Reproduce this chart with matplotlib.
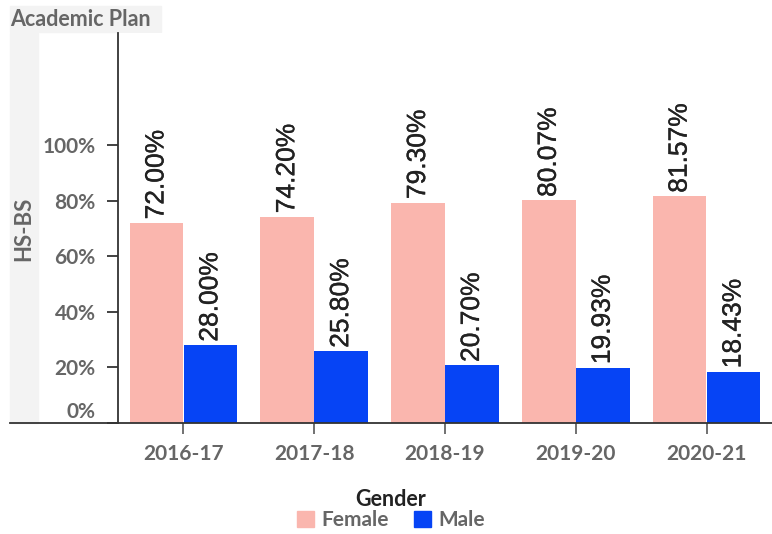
import matplotlib
matplotlib.use("Agg")
import matplotlib.pyplot as plt
import matplotlib.transforms as mtransforms
import matplotlib.patheffects as pe
from matplotlib.lines import Line2D
from matplotlib.patches import Patch, Rectangle
import numpy as np

years = ["2016-17", "2017-18", "2018-19", "2019-20", "2020-21"]
female = [72.00, 74.20, 79.30, 80.07, 81.57]
male = [28.00, 25.80, 20.70, 19.93, 18.43]
yticks = [0, 20, 40, 60, 80, 100]

c_female = "#fab6ae"
c_male = "#0644f5"
grey = "#666666"

plt.rcParams['font.family'] = ['Lato', 'DejaVu Sans']

fig = plt.figure(figsize=(7.72, 5.34), dpi=100)
W, H = 772, 534
ax = fig.add_axes([118 / W, 1 - 423 / H, (W - 118) / W, (423 - 33) / H])

x = np.arange(len(years))
w = 0.41
off = 0.206
ax.bar(x - off, female, w, color=c_female)
ax.bar(x + off, male, w, color=c_male)

# value labels, slightly thickened to match the medium weight
thick = [pe.withStroke(linewidth=0.25, foreground="#222222")]
for i in range(len(years)):
    for xx, v in ((x[i] - off, female[i]), (x[i] + off, male[i])):
        ax.annotate("%.2f%%" % v, (xx, v), xytext=(0, 2.5), textcoords="offset points",
                    rotation=90, ha="center", va="bottom", fontsize=19,
                    family="Liberation Sans", color="#222222", path_effects=thick)

ax.set_xlim(-0.5, 4.5)
ax.set_ylim(0, 140.3)
ax.set_xticks(x)
ax.set_xticklabels(years)
ax.set_yticks(yticks)
ax.set_yticklabels(["%d%%" % t for t in yticks])

for s in ("top", "right"):
    ax.spines[s].set_visible(False)
for s in ("left", "bottom"):
    ax.spines[s].set_color("#333333")
    ax.spines[s].set_linewidth(1.3)

ax.tick_params(axis="x", length=8, width=1.3, color=grey, pad=7,
               labelsize=15, labelcolor=grey)
ax.tick_params(axis="y", length=8, width=1.3, color="#333333", pad=8,
               labelsize=15, labelcolor=grey)
for lab in ax.get_xticklabels() + ax.get_yticklabels():
    lab.set_fontweight("bold")

# lift the 0% label off the baseline
zero = ax.get_yticklabels()[0]
zero.set_transform(zero.get_transform() +
                   mtransforms.ScaledTranslation(0, 9.5 / 72, fig.dpi_scale_trans))

# baseline extends to the left under the label strip
fig.add_artist(Line2D([10 / W, 118 / W], [1 - 423 / H, 1 - 423 / H],
                      color="#333333", lw=1.3, transform=fig.transFigure))

# grey strip behind the y axis title
fig.add_artist(Rectangle((10 / W, 1 - 423 / H), 28 / W, 390 / H,
                         transform=fig.transFigure, color="#f3f3f3", zorder=0))
fig.text(24 / W, 1 - 229 / H, "HS-BS", rotation=90, ha="center", va="center",
         fontsize=16, color=grey, fontweight="bold")

# title box
fig.add_artist(Rectangle((10 / W, 1 - 32 / H), 151 / W, 26 / H,
                         transform=fig.transFigure, color="#f3f3f3", zorder=0))
fig.text(10 / W, 1 - 19 / H, "Academic Plan", ha="left", va="center",
         fontsize=15.5, color=grey, fontweight="bold")

handles = [Patch(color=c_female), Patch(color=c_male)]
leg = fig.legend(handles, ["Female", "Male"], title="Gender", ncol=2,
                 loc="upper center", bbox_to_anchor=(391 / W, 1 - 479 / H),
                 frameon=False, fontsize=15, title_fontsize=15.5,
                 handlelength=0.8, handleheight=0.8, handletextpad=0.35,
                 columnspacing=1.2, borderpad=0, labelspacing=0)
leg.get_title().set_color("#222222")
leg.get_title().set_fontweight("bold")
for t in leg.get_texts():
    t.set_color(grey)
    t.set_fontweight("bold")

fig.savefig("out.png", dpi=100)
